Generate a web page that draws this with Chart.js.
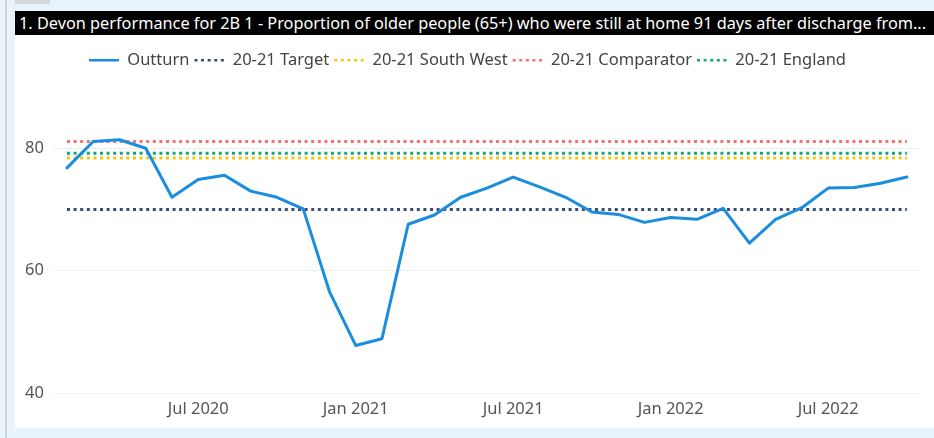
<!DOCTYPE html>
<html>
<head>
<meta charset="utf-8">
<script src="https://cdn.jsdelivr.net/npm/chart.js@4.4.1/dist/chart.umd.min.js"></script>
<style>
  html, body { margin: 0; padding: 0; }
  body { width: 934px; height: 438px; background: #e9f3fc; position: relative; overflow: hidden; font-family: "Noto Sans", "Open Sans", sans-serif; }
  .edge { position: absolute; left: 5px; top: 0; width: 2px; height: 438px; background: #cfd3d8; }
  .tab { position: absolute; left: 15px; top: 0; width: 35px; height: 4px; background: #d4d6d9; }
  .title { position: absolute; left: 15px; top: 11px; width: 919px; height: 24px; background: #000; color: #fff;
           font-size: 16.3px; line-height: 24px; white-space: nowrap; overflow: hidden; padding-left: 4px; box-sizing: border-box; }
  .panel { position: absolute; left: 15px; top: 35px; width: 919px; height: 393px; background: #fff; }
</style>
</head>
<body>
<div class="edge"></div>
<div class="tab"></div>
<div class="title">1. Devon performance for 2B 1 - Proportion of older people (65+) who were still at home 91 days after discharge from...</div>
<div class="panel"><canvas id="chart" width="919" height="393"></canvas></div>
<script>
// monthly outturn, Feb 2020 .. Oct 2022
const months = [
  'Feb 2020', 'Mar 2020', 'Apr 2020', 'May 2020', 'Jun 2020', 'Jul 2020', 'Aug 2020', 'Sep 2020', 'Oct 2020', 'Nov 2020', 'Dec 2020',
  'Jan 2021', 'Feb 2021', 'Mar 2021', 'Apr 2021', 'May 2021', 'Jun 2021', 'Jul 2021', 'Aug 2021', 'Sep 2021', 'Oct 2021', 'Nov 2021', 'Dec 2021',
  'Jan 2022', 'Feb 2022', 'Mar 2022', 'Apr 2022', 'May 2022', 'Jun 2022', 'Jul 2022', 'Aug 2022', 'Sep 2022', 'Oct 2022'
];
const outturn = [
  76.8, 81.1, 81.4, 80.0, 72.0, 74.9, 75.6, 73.0, 72.0, 70.1, 56.6,
  47.8, 48.9, 67.6, 69.1, 72.0, 73.5, 75.3, 73.7, 72.0, 69.6, 69.2, 67.9,
  68.7, 68.4, 70.2, 64.5, 68.4, 70.3, 73.5, 73.6, 74.3, 75.3
];
// 20-21 benchmark values (flat lines)
const benchNames = ['20-21 Target', '20-21 South West', '20-21 Comparator', '20-21 England'];
const benchValues = [70.0, 78.4, 81.1, 79.2];
const benchColors = ['#3b4a78', '#f2c80f', '#f4736f', '#12a87a'];
const yTicks = [40, 60, 80];

const firstMonth = months[0];
const lastMonth = months[months.length - 1];
const fontFamily = '"Noto Sans", sans-serif';

const datasets = [{
  label: 'Outturn',
  data: outturn,
  borderColor: '#1a8ddf',
  backgroundColor: '#1a8ddf',
  borderWidth: 3,
  pointRadius: 0,
  tension: 0,
  borderJoinStyle: 'round',
  borderCapStyle: 'round'
}];
benchNames.forEach((name, i) => {
  datasets.push({
    label: name,
    data: [{ x: firstMonth, y: benchValues[i] }, { x: lastMonth, y: benchValues[i] }],
    borderColor: benchColors[i],
    backgroundColor: benchColors[i],
    borderWidth: 3,
    borderDash: [3, 3.6],
    pointRadius: 0
  });
});

const ctx = document.getElementById('chart').getContext('2d');
new Chart(ctx, {
  type: 'line',
  data: { labels: months, datasets: datasets },
  options: {
    responsive: false,
    animation: false,
    events: [],
    layout: { padding: { top: 12, left: 0, right: 14, bottom: 3 } },
    plugins: {
      tooltip: { enabled: false },
      legend: {
        position: 'top',
        labels: {
          usePointStyle: true,
          pointStyle: 'line',
          pointStyleWidth: 30,
          padding: 5,
          color: '#444',
          font: { family: fontFamily, size: 16.5 },
          generateLabels: function (chart) {
            const items = Chart.defaults.plugins.legend.labels.generateLabels(chart);
            items.forEach(item => {
              const ds = chart.data.datasets[item.datasetIndex];
              item.lineDash = ds.borderDash || [];
              item.lineWidth = 2.5;
            });
            return items;
          }
        }
      }
    },
    scales: {
      x: {
        type: 'category',
        offset: true,
        grid: { display: false, drawTicks: false },
        border: { display: false },
        ticks: {
          autoSkip: false,
          maxRotation: 0,
          padding: 6,
          color: '#555',
          font: { family: fontFamily, size: 16.5 },
          callback: function (val, idx) {
            const lab = months[idx];
            return (lab.startsWith('Jan') || lab.startsWith('Jul')) ? lab : '';
          }
        }
      },
      y: {
        min: 40,
        max: 91.4,
        grid: { color: '#efefef', drawTicks: false },
        border: { display: false },
        afterBuildTicks: function (axis) { axis.ticks = yTicks.map(v => ({ value: v })); },
        ticks: {
          padding: 10,
          color: '#555',
          font: { family: fontFamily, size: 16.5 }
        }
      }
    }
  }
});
</script>
</body>
</html>
